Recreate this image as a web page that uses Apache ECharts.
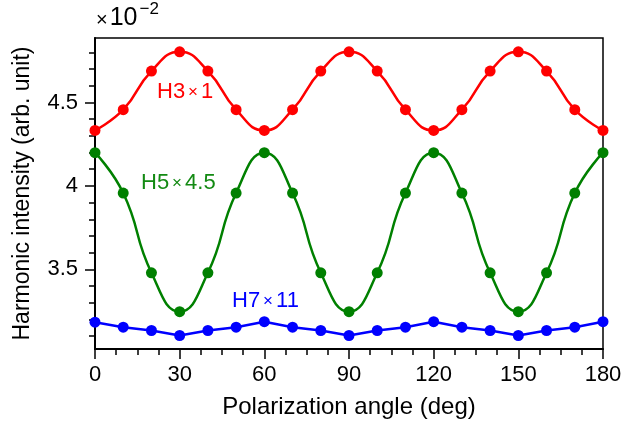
<!DOCTYPE html>
<html>
<head>
<meta charset="utf-8">
<script src="https://cdn.jsdelivr.net/npm/echarts@6/dist/echarts.min.js"></script>
<style>
  html, body { margin: 0; padding: 0; background: #fff; }
  #chart { width: 634px; height: 424px; }
</style>
</head>
<body>
<div id="chart"></div>
<script>
// polarization angle (deg)
var angles = [0, 10, 20, 30, 40, 50, 60, 70, 80, 90, 100, 110, 120, 130, 140, 150, 160, 170, 180];
// values in units of 1e-2
var h3 = [4.333, 4.457, 4.689, 4.804, 4.689, 4.457, 4.333, 4.457, 4.689, 4.804, 4.689, 4.457, 4.333, 4.457, 4.689, 4.804, 4.689, 4.457, 4.333];
var h5 = [4.199, 3.957, 3.479, 3.246, 3.479, 3.957, 4.199, 3.957, 3.479, 3.246, 3.479, 3.957, 4.199, 3.957, 3.479, 3.246, 3.479, 3.957, 4.199];
var h7 = [3.183, 3.153, 3.133, 3.103, 3.133, 3.153, 3.186, 3.153, 3.133, 3.103, 3.133, 3.153, 3.186, 3.153, 3.133, 3.103, 3.133, 3.153, 3.186];
var yMajor = [3.5, 4, 4.5];
var yMinor = [3.1, 3.2, 3.3, 3.4, 3.6, 3.7, 3.8, 3.9, 4.1, 4.2, 4.3, 4.4, 4.6, 4.7, 4.8];

function pairs(ys) {
  return angles.map(function (a, i) { return [a, ys[i]]; });
}

var font = 'Liberation Sans, Arial, Helvetica, sans-serif';
var yMin = 3.022, yMax = 4.887;

// series label: name, "×", factor
function seriesLabel(name, factor, color, left, top) {
  return {
    type: 'text', left: left, top: top,
    style: {
      text: '{t|' + name + '}{x|×}{t|' + factor + '}',
      rich: {
        t: { fontSize: 22, fill: color, fontFamily: font, lineHeight: 26, verticalAlign: 'middle' },
        x: { fontSize: 17, fill: color, fontFamily: font, lineHeight: 26, verticalAlign: 'middle', padding: [0, 3, 0, 3] }
      }
    }
  };
}

var chart = echarts.init(document.getElementById('chart'));
var option = {
  animation: false,
  grid: { left: 95, right: 31, top: 38, bottom: 73, show: true, borderColor: '#000', borderWidth: 1.5 },
  xAxis: {
    type: 'value', min: 0, max: 180, interval: 30,
    name: 'Polarization angle (deg)', nameLocation: 'middle', nameGap: 46,
    nameTextStyle: { color: '#000', fontSize: 24, fontFamily: font },
    axisLine: { lineStyle: { color: '#000', width: 2 } },
    axisTick: { length: 10, lineStyle: { color: '#000', width: 1.5 } },
    minorTick: { show: true, splitNumber: 4, length: 6, lineStyle: { color: '#000', width: 1.5 } },
    axisLabel: { color: '#000', fontSize: 22, fontFamily: font, margin: 15 },
    splitLine: { show: false }, minorSplitLine: { show: false }
  },
  yAxis: [{
    type: 'value', min: yMin, max: yMax,
    name: 'Harmonic intensity (arb. unit)', nameLocation: 'middle', nameGap: 61,
    nameTextStyle: { color: '#000', fontSize: 23, fontFamily: font },
    axisLine: { show: true, lineStyle: { color: '#000', width: 2 } },
    axisTick: { show: true, length: 10, customValues: yMajor, lineStyle: { color: '#000', width: 1.5 } },
    axisLabel: { color: '#000', fontSize: 22, fontFamily: font, margin: 17, customValues: yMajor,
      formatter: function (v) { return String(v); } },
    splitLine: { show: false }
  }, {
    type: 'value', min: yMin, max: yMax, position: 'left',
    axisLine: { show: false },
    axisTick: { show: true, length: 6, customValues: yMinor, lineStyle: { color: '#000', width: 1.5 } },
    axisLabel: { show: false },
    splitLine: { show: false }
  }],
  series: [{
    type: 'line', data: pairs(h3), smooth: 0.5, symbol: 'circle', symbolSize: 11,
    itemStyle: { color: '#ff0000' }, lineStyle: { color: '#ff0000', width: 2.5 }
  }, {
    type: 'line', data: pairs(h5), smooth: 0.5, symbol: 'circle', symbolSize: 11,
    itemStyle: { color: '#008000' }, lineStyle: { color: '#008000', width: 2.5 }
  }, {
    type: 'line', data: pairs(h7), smooth: false, symbol: 'circle', symbolSize: 11,
    itemStyle: { color: '#0000ff' }, lineStyle: { color: '#0000ff', width: 2.5 }
  }],
  graphic: [{
    type: 'text', left: 96, top: 1,
    style: {
      text: '{x|×}{a|10}{b|−2}',
      rich: {
        x: { fontSize: 20, fill: '#000', fontFamily: font, verticalAlign: 'bottom', lineHeight: 30, padding: [0, 2, 1, 0] },
        a: { fontSize: 25, fill: '#000', fontFamily: font, verticalAlign: 'bottom', lineHeight: 30 },
        b: { fontSize: 17, fill: '#000', fontFamily: font, verticalAlign: 'top', lineHeight: 30, padding: [0, 0, 13, 2] }
      }
    }
  },
    seriesLabel('H3', '1', '#ff0000', 157, 81),
    seriesLabel('H5', '4.5', '#138a13', 141, 172),
    seriesLabel('H7', '11', '#0000ff', 232, 290)
  ]
};
chart.setOption(option);
</script>
</body>
</html>
